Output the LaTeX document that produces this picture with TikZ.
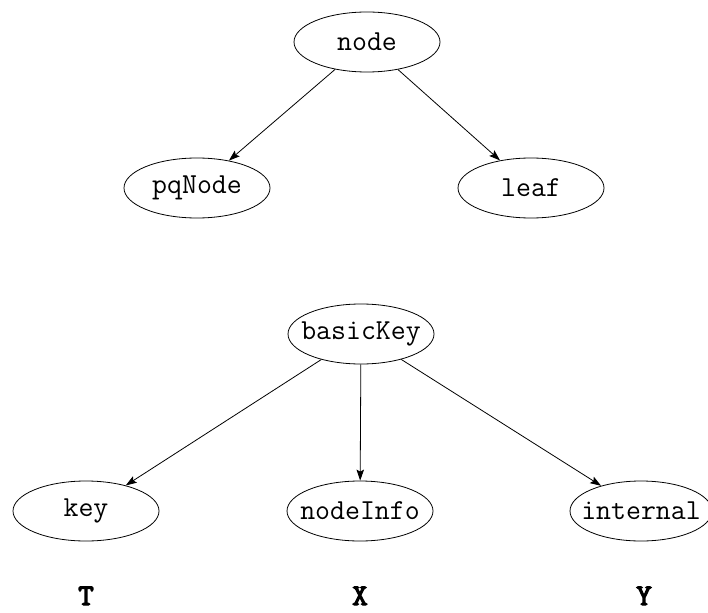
\documentclass[tikz,border=0pt]{standalone}
\usepackage{fontspec}
\newfontfamily\ttbold[FakeBold=4]{Latin Modern Mono}
\usetikzlibrary{shapes.geometric,arrows.meta}
\tikzset{
  gv/.style={ellipse, draw, line width=0.8pt, inner xsep=-14pt, inner ysep=0pt, minimum width=146pt, minimum height=60pt, font=\fontsize{29}{30}\selectfont\ttfamily},
  lab/.style={inner sep=0pt, font=\fontsize{30}{30}\selectfont\ttbold},
  edge/.style={line width=0.8pt, -{Stealth[length=11pt,width=7.5pt,inset=2pt]}}
}
\begin{document}
\begin{tikzpicture}[x=1pt,y=-1pt]
\useasboundingbox (0,0) rectangle (708,612);
\node[gv] (node) at (367,42) {node};
\node[gv] (pq) at (197,188) {pqNode};
\node[gv] (leaf) at (531,188) {leaf};
\node[gv] (bk) at (361,334) {basicKey};
\node[gv] (key) at (86,511) {key};
\node[gv] (ni) at (360,511) {nodeInfo};
\node[gv, minimum width=142pt] (in) at (641,511) {internal};
\node[lab, anchor=base] (T) at (86,605) {T};
\node[lab, anchor=base] (X) at (360,605) {X};
\node[lab, anchor=base] (Y) at (644,605) {Y};
\draw[edge] (node) -- (pq);
\draw[edge] (node) -- (leaf);
\draw[edge] (bk) -- (key);
\draw[edge] (bk) -- (ni);
\draw[edge] (bk) -- (in);
\end{tikzpicture}
\end{document}
